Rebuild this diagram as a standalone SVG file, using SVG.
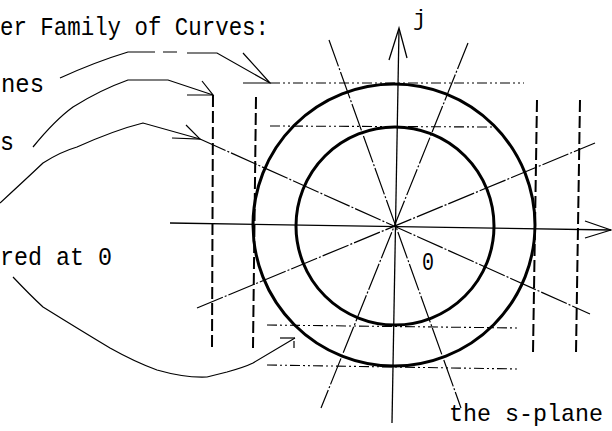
<svg xmlns="http://www.w3.org/2000/svg" width="612" height="431" viewBox="0 0 612 431">
<style>
  .lbl { font-family: "Liberation Mono", "DejaVu Sans Mono", monospace; font-size: 26px; fill: #000; }
  .circle { fill: none; stroke: #000; stroke-width: 3; }
  .axis { fill: none; stroke: #000; stroke-width: 1.3; }
  .radial { fill: none; stroke: #000; stroke-width: 1.2; stroke-dasharray: 28 2 2 2; }
  .hgrid { fill: none; stroke: #000; stroke-width: 1.1; stroke-dasharray: 10 3 2 3 2 3; }
  .vgrid { fill: none; stroke: #000; stroke-width: 2; stroke-dasharray: 12 4; }
  .ptr { fill: none; stroke: #000; stroke-width: 1.2; }
</style>
<rect width="612" height="431" fill="#fff"/>

<g id="labels">
  <text class="lbl" x="0" y="35" textLength="269" lengthAdjust="spacingAndGlyphs">er Family of Curves:</text>
  <text class="lbl" x="1" y="92" textLength="43" lengthAdjust="spacingAndGlyphs">nes</text>
  <text class="lbl" x="0" y="150" textLength="14" lengthAdjust="spacingAndGlyphs">s</text>
  <text class="lbl" x="0" y="265" textLength="112" lengthAdjust="spacingAndGlyphs">red at 0</text>
  <text class="lbl" x="449" y="421" textLength="154" lengthAdjust="spacingAndGlyphs" style="font-size:24px">the s-plane</text>
  <text class="lbl" x="422" y="270" textLength="12" lengthAdjust="spacingAndGlyphs">0</text>
  <text class="lbl" x="413" y="25" style="font-size:22px">j</text>
</g>

<g id="grid-lines">
  <line class="hgrid" x1="270" y1="83" x2="524" y2="83"/>
  <line class="hgrid" x1="270" y1="126" x2="493" y2="127"/>
  <line class="hgrid" x1="267" y1="325" x2="520" y2="328"/>
  <line class="hgrid" x1="267" y1="365" x2="518" y2="369"/>
  <line class="vgrid" x1="213" y1="95" x2="212" y2="348"/>
  <line class="vgrid" x1="256" y1="97" x2="253" y2="348"/>
  <line class="vgrid" x1="537" y1="100" x2="533" y2="353"/>
  <line class="vgrid" x1="580" y1="100" x2="576" y2="353"/>
</g>

<g id="radial-lines">
  <line class="radial" x1="329" y1="40" x2="461" y2="408"/>
  <line class="radial" x1="468" y1="43" x2="321" y2="408"/>
  <line class="radial" x1="200" y1="139" x2="590" y2="314"/>
  <line class="radial" x1="197" y1="308" x2="595" y2="143"/>
</g>

<g id="circles">
  <circle class="circle" cx="394" cy="225" r="141"/>
  <circle class="circle" cx="395" cy="226" r="99"/>
</g>

<g id="axes">
  <line class="axis" x1="170" y1="223" x2="611" y2="230"/>
  <polyline class="axis" points="585,221 611,230 585,238"/>
  <line class="axis" x1="399" y1="29" x2="392" y2="423"/>
  <polyline class="axis" points="389,60 399,28 407,58"/>
</g>

<g id="connectors">
  <path class="ptr" d="M60,78 Q95,62 128,52 L155,52 M163,52 L177,52 M187,53 L217,53 L270,83"/>
  <polyline class="ptr" points="243,53 270,83 243,83"/>
  <path class="ptr" d="M33,147 Q55,120 73,107 Q100,90 128,80 L168,80 L213,95"/>
  <polyline class="ptr" points="202,81 213,95 187,95"/>
  <path class="ptr" d="M0,203 Q25,180 43,163 Q60,152 77,147 Q115,130 143,123 L200,139"/>
  <polyline class="ptr" points="186,125 200,139 172,138"/>
  <path class="ptr" d="M13,277 Q30,295 43,307 Q80,330 110,348 Q135,362 157,370 Q185,378 207,377 L227,372 Q245,367 253,363 L295,338"/>
  <polyline class="ptr" points="280,338 295,338"/>
  <line class="ptr" x1="294" y1="341" x2="294" y2="348"/>
</g>
</svg>
